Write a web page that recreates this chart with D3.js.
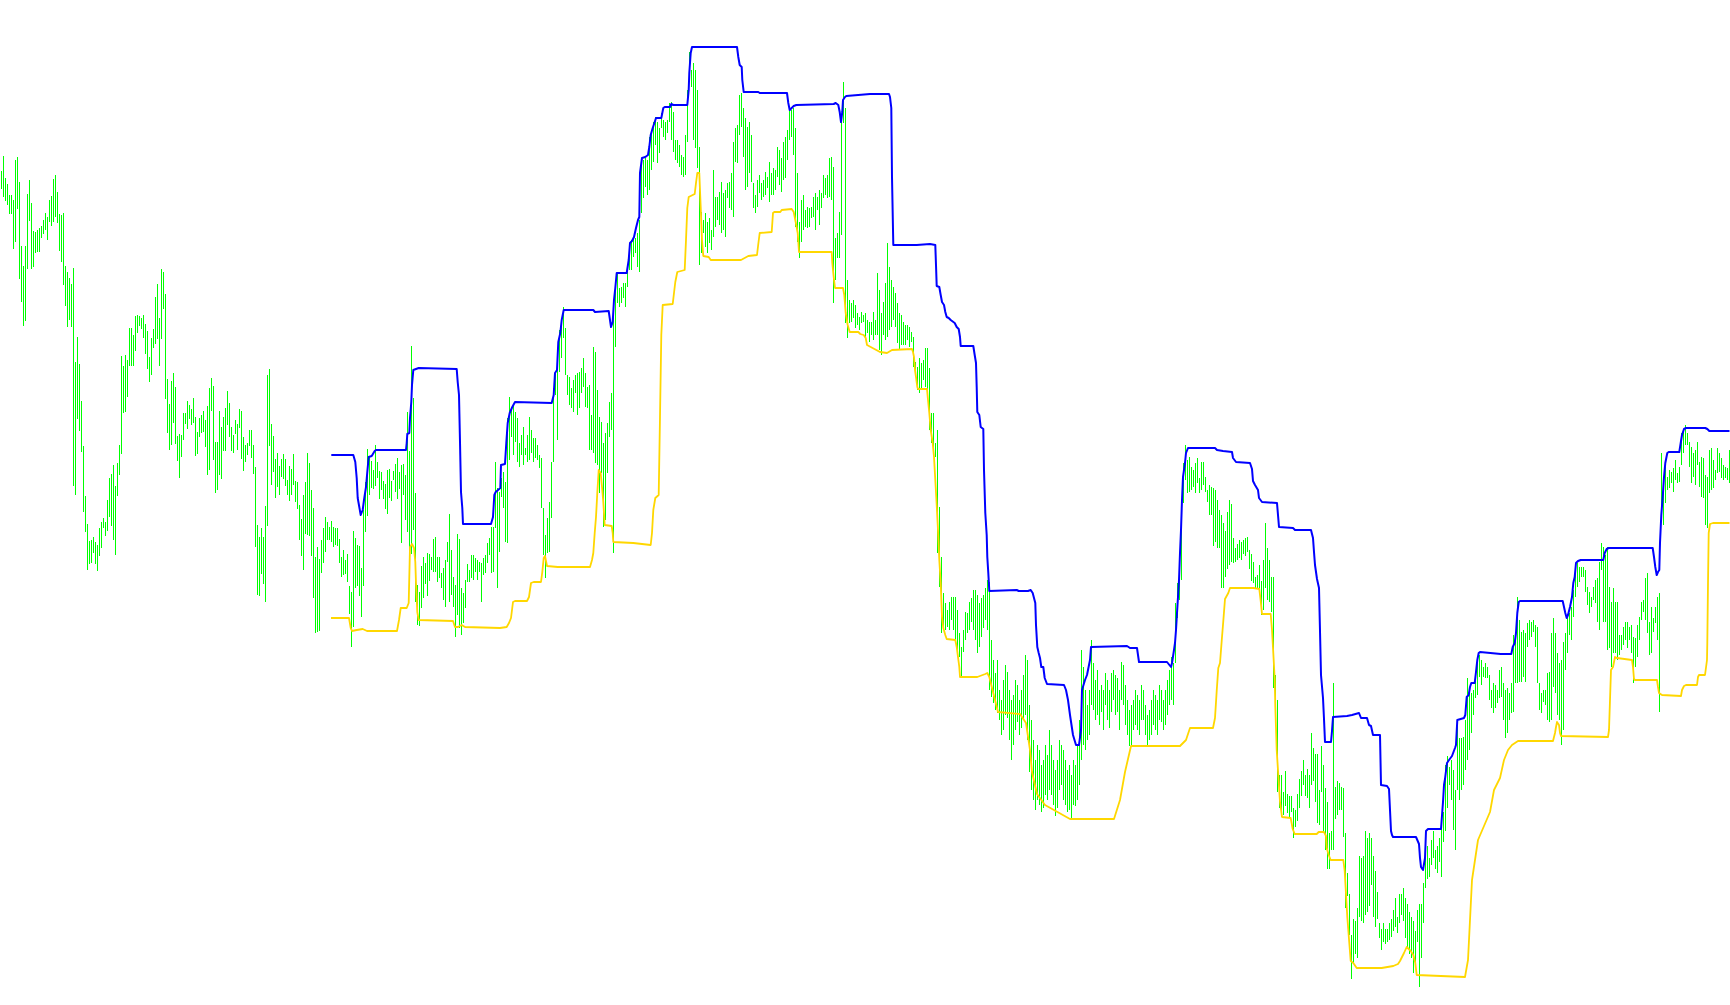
<!DOCTYPE html>
<html>
<head>
<meta charset="utf-8">
<script src="https://cdn.jsdelivr.net/npm/d3@7"></script>
<style>
html,body{margin:0;padding:0;background:#ffffff;overflow:hidden;}
svg{display:block;}
</style>
</head>
<body>
<svg id="chart" width="1730" height="1005"></svg>
<script>
// Bar highs (price points), one per bar
const highs = [
829,844,822,816,805,805,800,840,843,818,
754,734,754,806,820,797,769,768,770,772,
774,780,787,783,800,804,821,825,808,786,
785,787,734,728,722,716,732,638,663,636,
599,554,504,476,459,460,463,458,455,472,
478,482,478,500,522,526,535,514,537,555,
644,634,645,640,672,672,665,684,685,684,
682,685,676,669,643,662,671,703,716,682,
731,728,706,621,596,619,627,613,564,566,
565,587,587,599,595,591,602,583,568,582,
585,589,580,594,612,622,614,558,558,589,
573,583,592,609,597,573,565,580,576,591,
589,563,555,557,570,570,555,533,475,463,
472,463,494,625,631,576,564,541,547,534,
541,546,541,520,534,531,546,519,518,495,
481,505,518,547,537,510,492,443,453,441,
460,472,483,478,473,479,473,472,472,461,
443,450,440,446,414,408,469,462,455,454,
432,490,518,551,544,539,530,555,538,529,
528,519,516,530,531,519,529,536,542,528,
535,536,525,588,549,654,602,507,415,408,
434,443,437,447,446,443,461,463,443,443,
427,432,440,458,486,450,423,415,466,461,
412,407,420,436,430,445,445,442,440,438,
437,442,445,457,462,473,473,538,512,508,
522,528,518,582,603,590,595,588,582,557,
565,573,552,565,583,570,562,562,555,545,
542,492,465,482,498,538,612,628,638,670,
680,693,672,625,623,612,620,625,627,628,
632,642,627,613,615,585,653,648,610,583,
578,557,567,577,598,607,700,717,727,712,
713,717,717,730,757,760,763,762,767,780,
842,840,842,840,863,870,878,883,878,872,
887,880,878,880,897,898,888,860,860,855,
845,843,865,910,948,930,937,930,910,853,
788,780,787,778,782,770,830,803,803,808,
818,807,810,817,818,827,858,872,875,905,
907,892,882,873,878,865,817,805,820,825,
817,820,828,823,838,827,832,830,853,850,
842,858,863,870,890,890,892,872,827,778,
800,805,790,793,792,793,803,807,803,810,
807,825,822,825,842,843,833,762,767,788,
885,918,892,720,700,697,700,695,687,683,
688,685,687,680,678,678,688,680,727,710,
687,698,717,757,733,720,713,707,697,687,
685,678,675,675,673,668,663,638,633,642,
637,640,652,652,632,587,587,557,570,493,
443,407,397,390,398,403,403,403,390,367,
353,370,388,387,398,402,410,410,405,397,
402,405,412,420,418,360,340,327,340,310,
300,320,335,328,310,300,305,320,315,300,
310,325,345,340,295,280,260,240,255,250,
235,240,255,245,270,255,240,230,240,260,
255,250,240,230,235,225,240,235,255,280,
350,333,310,295,310,360,337,320,330,310,
315,310,327,320,310,327,330,325,322,310,
338,335,315,300,290,295,300,310,305,300,
315,310,295,285,290,300,310,305,300,315,
310,300,310,320,330,343,337,397,417,437,
493,537,555,540,543,533,530,537,542,522,
538,538,523,510,515,513,512,510,500,490,
485,477,469,488,500,496,462,452,456,460,
458,460,462,463,450,446,438,423,425,435,
419,440,477,452,440,423,423,325,300,225,
225,208,229,206,204,204,192,190,206,221,
229,240,225,231,225,267,252,246,246,210,
254,235,212,198,167,169,317,213,219,217,
213,212,167,127,106,65,81,79,92,144,
142,144,169,162,167,162,144,129,108,77,
71,77,71,71,77,81,90,102,83,106,
106,112,102,96,88,83,79,69,90,96,
96,117,169,154,142,160,169,150,154,162,
173,188,235,244,233,240,230,210,278,262,
262,263,280,322,310,307,310,322,342,345,
340,333,337,333,325,310,317,315,310,330,
333,317,310,312,307,317,365,367,403,380,
368,370,367,377,380,378,380,375,373,317,
307,310,310,327,328,367,382,367,347,337,
340,358,367,382,387,393,410,435,437,433,
433,433,430,413,408,403,413,420,422,438,
457,453,445,453,413,398,412,398,398,365,
365,373,378,378,373,375,363,362,375,383,
398,400,422,427,378,393,382,393,403,407,
547,520,533,523,530,528,532,540,527,533,
567,568,575,567,558,553,547,550,558,538,
543,542,525,523,550,552,540,530,552,547,
542,535,533,532,550
];

// Bar lows (price points), one per bar
const lows = [
811,803,799,795,786,786,751,758,791,721,
698,674,679,731,779,731,733,747,748,748,
762,766,770,760,778,774,778,783,777,749,
738,715,694,673,680,673,514,505,581,569,
548,488,468,430,436,437,447,436,429,444,
452,472,464,469,483,474,460,445,504,525,
546,587,588,603,634,634,634,649,667,674,
671,662,646,631,618,625,652,656,661,634,
661,691,601,567,550,555,577,556,539,522,
543,560,576,571,581,575,577,544,546,563,
567,568,553,525,530,589,540,507,510,525,
521,549,549,575,563,549,547,566,550,572,
541,529,538,545,554,542,526,453,405,404,
426,416,398,474,554,515,528,502,513,505,
523,521,514,505,499,505,515,498,491,460,
444,430,466,465,464,444,402,367,368,369,
427,437,448,460,460,458,453,455,454,437,
423,425,426,418,386,353,373,412,414,404,
383,414,468,484,505,512,511,514,522,501,
510,501,491,486,502,499,520,508,501,511,
457,505,480,468,425,446,470,398,375,374,
392,402,416,404,419,430,428,428,418,422,
412,400,393,438,398,405,393,363,385,372,
365,377,392,418,418,422,420,428,420,428,
398,425,427,437,445,427,428,472,412,448,
503,492,458,457,540,563,545,558,538,533,
545,535,545,538,540,547,538,542,540,532,
492,445,422,447,448,482,538,605,560,628,
642,662,625,605,595,592,588,607,585,592,
607,613,593,592,550,550,547,537,535,507,
527,473,480,527,563,570,447,653,697,693,
697,702,693,713,730,730,743,747,733,728,
787,802,813,805,810,830,838,855,837,847,
872,863,860,867,878,860,848,840,837,833,
825,823,825,858,928,913,860,852,832,735,
747,767,753,747,757,750,763,773,780,775,
767,770,763,802,792,790,783,838,837,865,
873,843,810,813,827,818,792,787,793,807,
800,803,805,812,798,805,805,810,823,815,
808,820,822,840,860,863,845,773,758,742,
758,770,773,772,773,782,783,770,790,775,
792,802,805,802,803,800,697,720,742,742,
765,877,677,662,677,678,682,672,675,670,
677,678,663,667,658,665,660,665,665,650,
645,665,660,663,670,673,680,673,657,650,
655,655,655,660,653,658,633,623,610,607,
610,620,613,610,570,557,550,543,447,413,
367,370,370,373,370,380,370,360,350,343,
323,348,360,367,370,378,370,360,347,353,
363,372,380,370,310,303,297,290,287,280,
265,270,285,282,260,240,255,270,278,265,
272,280,285,260,228,210,200,190,200,195,
188,192,205,200,210,205,195,184,192,210,
215,200,195,188,190,181,195,194,200,215,
240,255,250,260,265,295,290,280,285,275,
288,270,295,280,272,288,300,285,288,270,
300,295,275,265,254,255,270,275,270,265,
280,280,265,255,260,265,275,270,265,280,
278,270,275,285,295,300,295,337,382,400,
420,497,520,507,508,510,513,507,517,507,
510,515,508,498,485,485,454,458,452,452,
412,412,423,431,435,438,437,438,440,442,
440,446,444,448,431,419,417,412,412,410,
385,390,412,400,398,388,312,300,208,192,
183,185,194,187,183,188,162,173,179,192,
204,215,204,202,192,215,219,198,177,175,
208,169,150,131,131,150,150,181,185,190,
190,163,92,104,65,21,37,46,42,83,
79,77,85,88,94,115,83,73,81,62,
50,58,56,58,60,63,69,73,67,77,
85,79,62,52,46,42,27,38,58,13,
42,77,112,121,123,135,142,131,127,138,
123,158,169,192,215,200,170,150,210,200,
210,215,230,240,250,267,285,302,305,323,
315,323,322,322,300,292,287,292,297,302,
303,280,262,267,280,287,288,317,317,318,
318,323,318,353,360,363,368,353,317,290,
287,298,295,280,278,280,313,307,285,280,
255,270,330,347,365,360,383,403,413,418,
423,423,408,395,387,393,400,397,378,370,
430,378,378,350,352,333,347,347,340,345,
350,355,360,352,360,347,317,333,343,360,
380,388,380,367,345,347,368,377,360,288,
485,475,497,510,512,517,508,520,517,518,
535,547,555,555,533,517,523,515,535,513,
503,502,475,472,507,510,512,520,527,528,
522,520,522,520,517
];

// Upper channel (blue): [bar index, price]
const upperBand = [
[164.9,545],[175.9,545],[176.9,538],[177.6,522],[178.1,502],[178.9,493],[179.6,485],[180.6,490],[181.25,500],[182.25,513],[182.9,528],[183.6,543],[185.1,544],[186.6,549],[187.25,550],[202.25,550],[202.6,557],[202.9,566],[203.9,567],[204.25,582],[204.9,598],[205.25,615],[205.9,630],[208.6,632],[227.6,631],[228.1,618],[228.75,605],[229.25,558],[229.75,508],[230.4,492],[230.75,476],[244.75,476],[245.75,483],[246.4,505],[247.1,508],[249.4,512],[249.75,535],[251.75,536],[252.4,557],[253.1,577],[254.1,587],[255.4,593],[256.75,598],[275.1,597],[276.1,605],[276.75,627],[277.75,630],[278.4,658],[279.4,667],[280.1,680],[281.1,690],[295.9,690],[296.75,688],[303.6,689],[304.25,680],[304.75,673],[305.6,678],[306.25,700],[306.9,712],[307.6,727],[312.6,727],[313.6,740],[314.25,757],[315.25,759],[316.25,763],[317.25,772],[318.25,780],[318.9,783],[319.25,827],[320.25,842],[321.9,843],[323.25,845],[323.9,853],[324.6,865],[325.6,872],[326.6,878],[327.25,882],[329.9,882],[330.9,892],[331.6,893],[334.25,893],[334.9,896],[335.9,895],[342.9,895],[343.6,910],[343.9,927],[344.6,947],[345.25,953],[367.75,953],[368.4,943],[369.1,935],[370.1,933],[370.4,920],[371.1,908],[378.4,908],[379.1,907],[392.75,907],[393.4,897],[394.1,890],[395.1,892],[396.1,894],[397.4,895],[416.1,896],[417.1,897],[418.4,895],[419.1,888],[419.75,878],[420.4,888],[420.75,900],[421.75,903],[422.4,904],[434.25,906],[443.75,906],[444.25,903],[444.9,892],[445.25,823],[445.9,755],[457.6,755],[464.25,756],[466.9,755],[467.25,735],[467.6,714],[468.9,713],[469.6,705],[470.25,698],[471.25,695],[471.9,688],[472.6,683],[473.6,682],[474.6,680],[476.6,677],[477.6,673],[478.6,671],[479.25,663],[479.6,654],[485.9,654],[486.6,645],[487.25,637],[487.6,613],[487.9,588],[488.9,585],[489.6,573],[490.9,571],[491.25,530],[491.9,487],[492.6,465],[492.9,443],[493.4,427],[493.9,409],[507.6,410],[508.6,409],[513.25,409],[514.6,410],[515.6,407],[516.25,402],[516.9,397],[517.25,375],[517.9,353],[518.6,347],[519.25,342],[519.9,333],[520.9,333],[521.6,322],[522.75,316],[531.25,315],[532.25,310],[533.25,300],[534.25,285],[535.75,265],[537.25,255],[538.75,255],[539.75,270],[540.25,310],[541.75,320],[542.75,325],[544.25,340],[544.75,353],[562.75,354],[564.25,352],[567.75,352],[568.25,345],[568.75,338],[582.75,338],[584.75,333],[585.25,337],[586.25,350],[586.75,357],[587.25,370],[587.75,387],[588.25,403],[588.75,420],[589.25,447],[589.75,470],[590.25,500],[590.75,523],[591.75,537],[592.25,547],[593.25,552],[606.75,552],[607.75,550],[610.75,549],[615.25,548],[615.75,542],[617.25,538],[624.25,537],[625.25,531],[625.75,519],[626.75,515],[628.25,510],[628.75,502],[630.25,498],[637.75,497],[638.25,485],[638.75,473],[645.75,472],[646.75,470],[654.75,470],[655.75,462],[656.25,448],[656.75,435],[657.75,421],[658.75,412],[659.25,369],[659.75,325],[660.75,302],[661.25,281],[661.75,258],[664.75,258],[665.25,269],[665.75,283],[672.75,284],[675.25,285],[678.75,287],[679.75,282],[682.75,282],[683.75,275],[684.75,274],[685.75,265],[689.25,265],[689.75,215],[692.75,214],[693.75,211],[694.75,169],[695.25,165],[695.75,163],[707.25,163],[708.75,156],[709.25,142],[709.75,133],[710.75,130],[711.75,142],[712.25,169],[713.25,171],[719.75,171],[720.75,198],[721.25,215],[721.75,221],[722.75,237],[723.75,240],[725.25,244],[726.75,252],[727.25,255],[727.9,280],[731.25,282],[731.9,285],[732.6,303],[733.6,305],[734.25,313],[734.9,317],[736.6,317],[737.25,328],[737.9,340],[738.6,347],[739.25,348],[749.6,346],[754.9,346],[755.6,353],[756.6,357],[757.25,367],[757.9,387],[758.6,398],[759.25,399],[780.6,399],[781.25,393],[781.9,387],[782.6,382],[783.25,385],[784.25,393],[785.25,403],[785.9,417],[786.6,423],[787.25,437],[788.25,439],[789.6,440],[800.9,440],[801.6,447],[802.6,451],[803.6,452],[825.6,452],[826.25,443],[826.9,433],[827.6,425],[828.25,428],[828.9,430],[829.25,457],[829.9,485],[830.6,503],[831.25,523],[831.9,537],[832.9,547],[833.6,548],[838.9,548],[839.6,557],[840.25,565],[841.25,571],[842.25,572],[851.9,572],[852.9,571],[853.9,569],[864,569]
];

// Lower channel (gold): [bar index, price]
const lowerBand = [
[164.75,382],[173.75,382],[174.6,372],[175.25,369],[177.6,370],[180.6,371],[182.75,369],[197.75,369],[198.75,380],[199.6,392],[202.6,392],[203.6,397],[204.25,453],[205.25,456],[206.25,452],[206.9,438],[207.25,417],[207.9,388],[208.6,380],[225.75,379],[226.75,373],[228.25,373],[230.1,375],[231.75,373],[249.25,372],[252.6,373],[253.75,377],[254.75,382],[255.75,398],[256.75,399],[262.75,399],[263.75,403],[264.75,417],[266.1,418],[269.75,418],[270.4,428],[271.1,442],[271.75,444],[272.75,434],[278.1,433],[294.25,433],[295.25,440],[295.9,447],[296.6,467],[297.25,483],[297.9,507],[298.6,530],[299.6,527],[300.25,513],[300.9,498],[301.6,475],[305.1,474],[305.6,467],[305.9,458],[315.9,457],[324.6,455],[325.25,467],[325.9,490],[326.9,502],[328.6,505],[329.25,583],[329.9,665],[330.6,695],[335.6,696],[336.25,707],[336.9,718],[337.9,728],[341.6,730],[342.25,760],[342.9,792],[343.6,803],[346.6,806],[347.25,817],[347.9,827],[348.9,827],[349.6,793],[350.25,760],[350.9,744],[353.6,743],[354.6,740],[369.75,740],[373.4,744],[377.75,745],[378.4,756],[379.1,767],[385.1,768],[385.75,787],[386.4,788],[389.4,788],[390.1,790],[395.1,791],[396.1,788],[397.1,778],[398.1,767],[398.75,748],[415.1,748],[415.4,737],[416.1,723],[416.75,712],[420.75,712],[421.4,705],[422.1,687],[423.1,675],[424.1,668],[428.4,668],[429.4,666],[431.1,665],[432.1,662],[432.75,655],[439.25,648],[442.75,647],[445.25,650],[455.25,651],[455.75,648],[456.25,643],[456.75,630],[457.25,623],[457.9,613],[458.25,611],[462.75,611],[463.25,600],[463.9,587],[464.6,570],[465.6,557],[466.25,543],[466.9,520],[467.6,495],[468.25,470],[468.9,440],[469.6,417],[470.25,383],[470.9,372],[471.9,365],[472.6,361],[476.9,360],[477.6,353],[478.25,343],[478.9,333],[479.25,323],[487.9,323],[491.9,326],[492.9,327],[493.9,323],[496.75,300],[498.25,288],[509.25,286],[512.25,277],[514.25,250],[515.25,228],[517.75,206],[521.75,195],[534.25,181],[556.25,181],[559.25,200],[561.75,228],[564.75,254],[589.25,254],[592.25,260],[594.25,272],[605.75,272],[606.75,282],[607.6,309],[608.4,332],[609.25,337],[610.1,359],[610.9,379],[611.75,401],[613.4,407],[614.25,412],[625.9,412],[628.9,411],[629.6,399],[630.25,386],[634.6,386],[635.25,370],[635.9,347],[636.6,321],[636.9,294],[637.6,250],[638.4,225],[639.25,198],[640.25,183],[644.6,182],[645.6,171],[646.6,166],[657.6,166],[658.6,168],[661.25,168],[662.25,164],[662.6,152],[663.6,145],[664.6,140],[670.9,140],[671.6,129],[672.25,106],[672.9,83],[673.9,57],[674.6,39],[675.9,37],[677.6,32],[690.1,32],[695.9,34],[698.25,36],[699.25,39],[701.25,47],[702.6,53],[704.6,49],[705.9,45],[706.9,37],[707.6,25],[731.75,23],[733.25,40],[735.25,120],[738.25,160],[744.25,188],[746.25,210],[749.25,222],[751.25,240],[753.25,250],[755.25,255],[758.25,259],[775.75,259],[776.75,267],[777.25,273],[777.75,278],[778.75,275],[779.25,267],[779.75,264],[803.25,263],[803.75,270],[804.25,300],[804.75,330],[805.75,333],[806.75,343],[807.75,342],[815.25,340],[815.75,333],[816.25,321],[816.75,320],[827.75,320],[828.25,313],[828.75,307],[830.25,305],[839.75,304],[840.25,310],[841.25,314],[842.25,315],[847.75,315],[848.25,323],[848.75,325],[851.75,325],[852.75,340],[852.9,357],[853.25,417],[853.6,467],[854.25,476],[855.75,477],[864,477]
];

const W = 1730, H = 1005;
const svg = d3.select("#chart");
svg.append("rect").attr("width", W).attr("height", H).attr("fill", "#ffffff");

const x = d3.scaleLinear().domain([0, highs.length - 1]).range([1.5, 1729.5]);
const y = d3.scaleLinear().domain([0, 1000]).range([1000, 0]);

const bars = highs.map((h, i) => ({i, h, l: lows[i]}));

svg.append("g")
  .attr("stroke", "#00ff00")
  .attr("stroke-width", 1)
  .attr("shape-rendering", "crispEdges")
  .selectAll("line")
  .data(bars)
  .join("line")
  .attr("x1", d => x(d.i))
  .attr("x2", d => x(d.i))
  .attr("y1", d => y(d.h))
  .attr("y2", d => y(d.l));

const line = d3.line().x(d => x(d[0])).y(d => y(d[1]));

svg.append("path")
  .datum(lowerBand)
  .attr("fill", "none")
  .attr("stroke", "#ffd700")
  .attr("stroke-width", 1.8)
  .attr("stroke-linejoin", "round")
  .attr("d", line);

svg.append("path")
  .datum(upperBand)
  .attr("fill", "none")
  .attr("stroke", "#0000ff")
  .attr("stroke-width", 2)
  .attr("stroke-linejoin", "round")
  .attr("d", line);
</script>
</body>
</html>
